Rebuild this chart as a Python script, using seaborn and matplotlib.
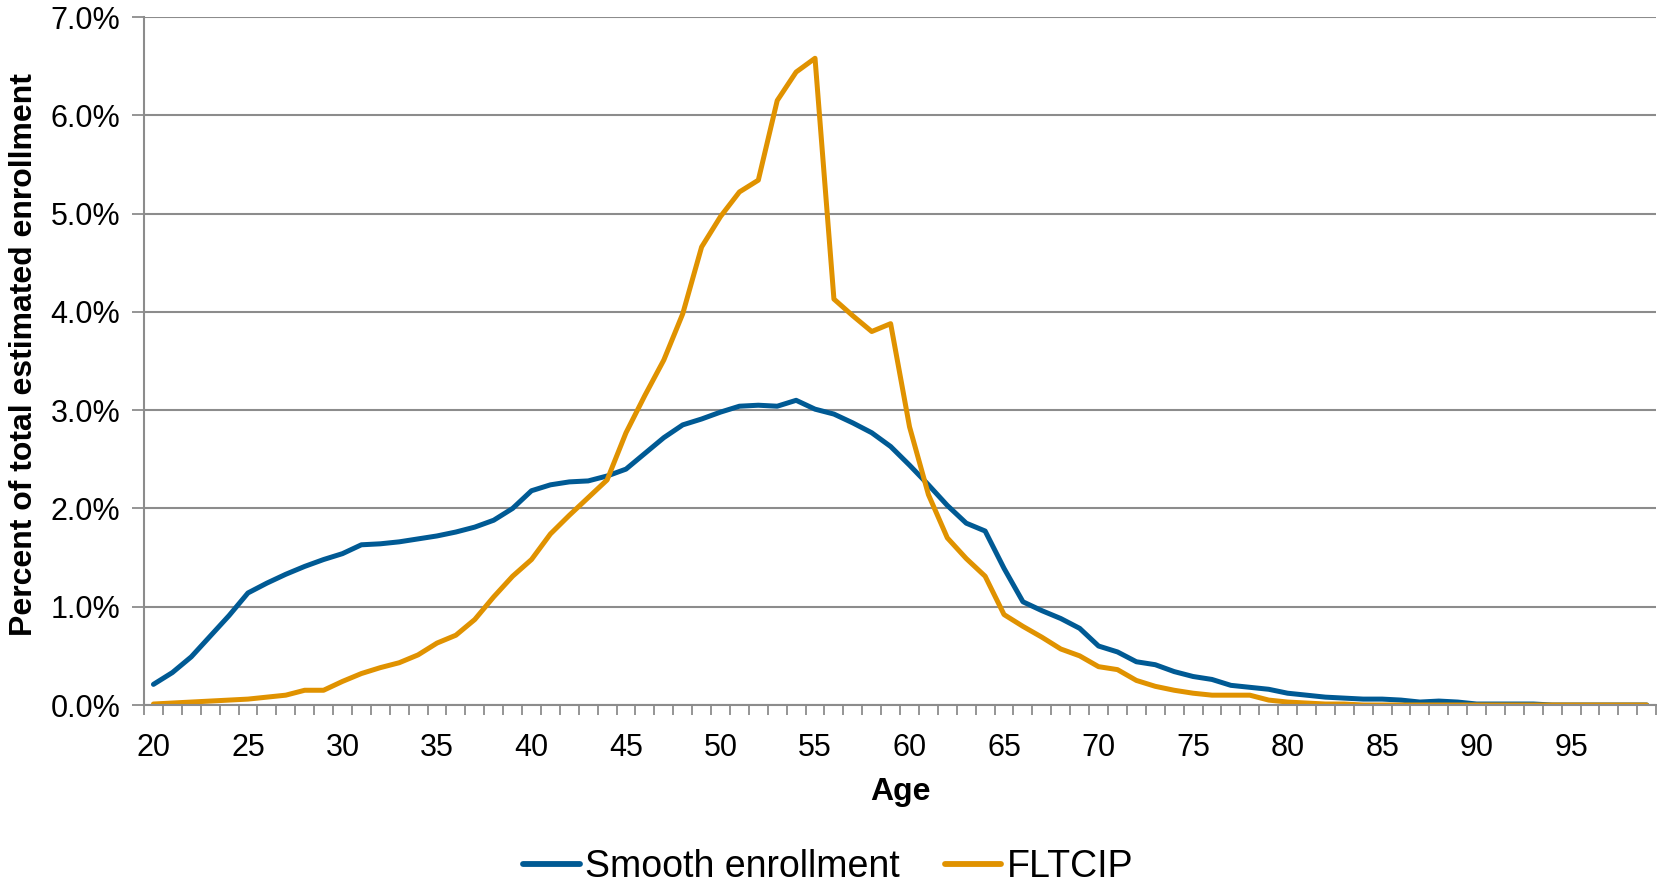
import numpy as np
import pandas as pd
import seaborn as sns
import matplotlib.pyplot as plt
from matplotlib.ticker import FixedLocator, FuncFormatter

# Ages on the category axis
ages = list(range(20, 100))

# Percent of total estimated enrollment
smooth_enrollment = [
    0.21, 0.33, 0.49, 0.70, 0.91, 1.14, 1.24, 1.33, 1.41, 1.48,
    1.54, 1.63, 1.64, 1.66, 1.69, 1.72, 1.76, 1.81, 1.88, 2.00,
    2.18, 2.24, 2.27, 2.28, 2.33, 2.40, 2.56, 2.72, 2.85, 2.91,
    2.98, 3.04, 3.05, 3.04, 3.10, 3.01, 2.96, 2.87, 2.77, 2.63,
    2.44, 2.24, 2.03, 1.85, 1.77, 1.39, 1.05, 0.96, 0.88, 0.78,
    0.60, 0.54, 0.44, 0.41, 0.34, 0.29, 0.26, 0.20, 0.18, 0.16,
    0.12, 0.10, 0.08, 0.07, 0.06, 0.06, 0.05, 0.03, 0.04, 0.03,
    0.01, 0.01, 0.01, 0.01, 0.00, 0.00, 0.00, 0.00, 0.00, 0.00,
]
fltcip = [
    0.01, 0.02, 0.03, 0.04, 0.05, 0.06, 0.08, 0.10, 0.15, 0.15,
    0.24, 0.32, 0.38, 0.43, 0.51, 0.63, 0.71, 0.87, 1.10, 1.31,
    1.48, 1.74, 1.93, 2.11, 2.29, 2.77, 3.15, 3.51, 3.98, 4.66,
    4.97, 5.22, 5.34, 6.15, 6.44, 6.58, 4.13, 3.96, 3.80, 3.88,
    2.83, 2.14, 1.70, 1.49, 1.31, 0.92, 0.80, 0.69, 0.57, 0.50,
    0.39, 0.36, 0.25, 0.19, 0.15, 0.12, 0.10, 0.10, 0.10, 0.05,
    0.03, 0.02, 0.01, 0.01, 0.00, 0.00, 0.00, 0.00, 0.00, 0.00,
    0.00, 0.00, 0.00, 0.00, 0.00, 0.00, 0.00, 0.00, 0.00, 0.00,
]
series_names = ['Smooth enrollment', 'FLTCIP']
series_colors = ['#005A94', '#E09200']
y_ticks = [0, 1, 2, 3, 4, 5, 6, 7]
x_tick_labels = list(range(20, 100, 5))

df = pd.concat([
    pd.DataFrame({'Age': ages, 'Pct': smooth_enrollment, 'Series': series_names[0]}),
    pd.DataFrame({'Age': ages, 'Pct': fltcip, 'Series': series_names[1]}),
], ignore_index=True)

sns.set_style('white')
plt.rcParams['font.family'] = ['Liberation Sans', 'DejaVu Sans']
plt.rcParams['text.color'] = 'black'
plt.rcParams['axes.labelcolor'] = 'black'
plt.rcParams['xtick.color'] = 'black'
plt.rcParams['ytick.color'] = 'black'

fig = plt.figure(figsize=(16.57, 8.88), dpi=100)
ax = fig.add_axes([144 / 1657, 1 - 705 / 888, 1 - 144 / 1657 - 0.0005, (705 - 17) / 888])

sns.lineplot(data=df, x='Age', y='Pct', hue='Series', palette=dict(zip(series_names, series_colors)),
             linewidth=3.6, ax=ax, legend=True)
for ln in ax.get_lines():
    ln.set_solid_capstyle('round')

ax.set_xlim(19.5, 99.5)
ax.set_ylim(0, 7)

grid_col = '#8C8C8C'
ax.yaxis.set_major_locator(FixedLocator(y_ticks))
ax.yaxis.set_major_formatter(FuncFormatter(lambda v, p: f'{v:.1f}%'))
ax.grid(axis='y', color=grid_col, linewidth=1.5)
ax.set_axisbelow(True)

ax.xaxis.set_major_locator(FixedLocator(x_tick_labels))
ax.xaxis.set_minor_locator(FixedLocator(np.arange(19.5, 100, 1)))
ax.tick_params(axis='x', which='major', bottom=True, length=0, labelsize=22, pad=20)
ax.tick_params(axis='x', which='minor', bottom=True, length=7, width=1.3, color=grid_col, direction='out')
ax.tick_params(axis='y', which='major', left=True, length=9, width=1.3, color=grid_col, direction='out',
               labelsize=22, pad=8, labelcolor='black')
ax.tick_params(axis='x', labelcolor='black')

for side in ['top', 'right']:
    ax.spines[side].set_visible(False)
for side in ['left', 'bottom']:
    ax.spines[side].set_color(grid_col)
    ax.spines[side].set_linewidth(1.5)

ax.set_xlabel('Age', fontsize=23, fontweight='bold')
ax.xaxis.set_label_coords(0.5, -0.104)
ax.set_ylabel('Percent of total estimated enrollment', fontsize=23, fontweight='bold')
ax.yaxis.set_label_coords(-0.0697, 0.51)

handles, labels = ax.get_legend_handles_labels()
ax.get_legend().remove()
for h in handles:
    h.set_linewidth(4.2)
fig.legend(handles, labels, loc='center', bbox_to_anchor=(0.5, 1 - 867 / 888), ncol=2,
           frameon=False, fontsize=27, handlelength=1.5, handletextpad=0.15, columnspacing=1.2)

fig.savefig('out.png', dpi=100)
